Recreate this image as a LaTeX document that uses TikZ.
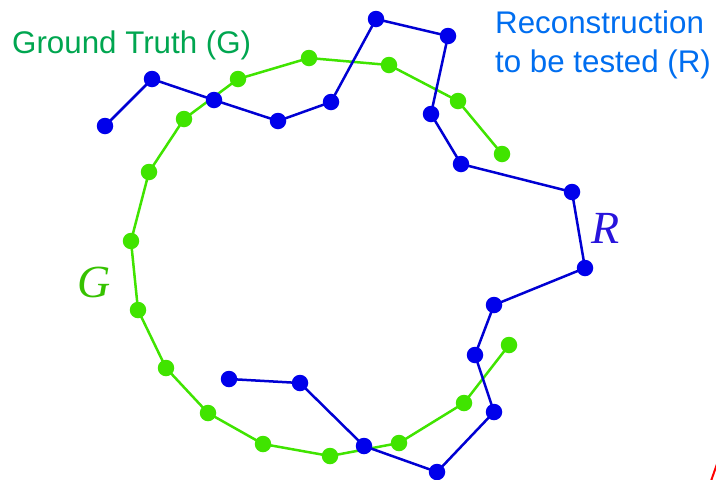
\documentclass[tikz,border=0pt]{standalone}
\usepackage{fontspec}
\setmainfont{Liberation Sans}
\newfontfamily\serifit{Liberation Serif}
\definecolor{gdot}{RGB}{64,228,0}
\definecolor{bdot}{RGB}{0,0,235}
\definecolor{gtext}{RGB}{0,166,80}
\definecolor{btext}{RGB}{0,110,240}
\definecolor{rlab}{RGB}{40,20,220}
\begin{document}
\begin{tikzpicture}[x=1pt,y=-1pt,
  gline/.style={draw=gdot,line width=2.5pt},
  bline/.style={draw=bdot!90!black,line width=2.5pt},
  gpt/.style={circle,fill=gdot,inner sep=0pt,minimum size=16.5pt},
  bpt/.style={circle,fill=bdot,inner sep=0pt,minimum size=16.5pt},
  lbl/.style={inner sep=0pt,font=\fontsize{31.3}{38}\selectfont}]
\useasboundingbox (0,0) rectangle (716,480);
\fill[white] (0,0) rectangle (716,480);
% Ground truth points
\foreach \n/\x/\y in {1/502/154,2/458/101,3/389/65,4/309/58,5/238/79,6/184/119,7/149/172,8/131/241,9/138/310,10/166/368,11/208/413,12/263/444,13/330/456,14/399/443,15/464/403,16/509/345}
  \coordinate (g\n) at (\x,\y);
% Reconstruction points
\foreach \n/\x/\y in {1/105/126,2/152/79,3/214/100,4/278/121,5/331/102,6/376/19,7/448/36,8/431/114,9/461/164,10/572/192,11/585/268,12/494/305,13/475/355,14/494/412,15/437/472,16/364/446,17/300/383,18/229/379}
  \coordinate (b\n) at (\x,\y);
\draw[gline] (g1)--(g2)--(g3)--(g4)--(g5)--(g6)--(g7)--(g8)--(g9)--(g10)--(g11)--(g12)--(g13)--(g14)--(g15)--(g16);
\foreach \n in {1,...,16} \node[gpt] (G\n) at (g\n) {};
\draw[bline] (b1)--(b2)--(b3)--(b4)--(b5)--(b6)--(b7)--(b8)--(b9)--(b10)--(b11)--(b12)--(b13)--(b14)--(b15)--(b16)--(b17)--(b18);
\foreach \n in {1,...,18} \node[bpt] (B\n) at (b\n) {};
% labels
\node[lbl,text=gtext,anchor=base west] (gt) at (12,53) {Ground Truth (G)};
\node[lbl,text=btext,anchor=base west] (rc1) at (495,33) {Reconstruction};
\node[lbl,text=btext,anchor=base west] (rc2) at (495,72) {to be tested (R)};
\node[inner sep=0pt,anchor=base,text=gdot!85!black,font=\serifit\itshape\fontsize{46}{46}\selectfont] (glab) at (94,297) {G};
\node[inner sep=0pt,anchor=base,text=rlab,font=\serifit\itshape\fontsize{46}{46}\selectfont] (rlab) at (606,243) {R};
% cropped red fragment in the corner
\coordinate (ra) at (711,481);
\coordinate (rb) at (717,464);
\draw[red,line width=2pt] (ra)--(rb);
\end{tikzpicture}
\end{document}
